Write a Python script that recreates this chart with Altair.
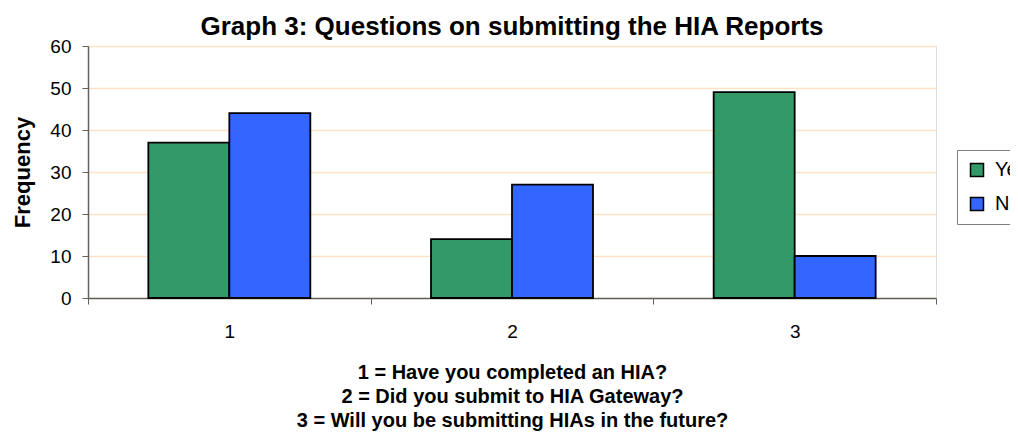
import altair as alt
import pandas as pd

questions = ["1", "2", "3"]
yes_values = [37, 14, 49]
no_values = [44, 27, 10]
series = ["Yes", "No"]
series_colors = ["#339966", "#3366FF"]
y_ticks = [0, 10, 20, 30, 40, 50, 60]
x_title_lines = [
    "1 = Have you completed an HIA?",
    "2 = Did you submit to HIA Gateway?",
    "3 = Will you be submitting HIAs in the future?",
]

rows = []
for q, yv, nv in zip(questions, yes_values, no_values):
    rows.append({"q": q, "answer": "Yes", "freq": yv})
    rows.append({"q": q, "answer": "No", "freq": nv})
df = pd.DataFrame(rows)

FONT = "Liberation Sans"

chart = (
    alt.Chart(df)
    .mark_bar(stroke="black", strokeWidth=1.8)
    .encode(
        x=alt.X(
            "q:N",
            sort=questions,
            scale=alt.Scale(paddingInner=0, paddingOuter=0),
            axis=alt.Axis(
                title=x_title_lines,
                titleFont=FONT,
                titleFontSize=20,
                titleFontWeight="bold",
                titleLineHeight=24,
                titlePadding=21,
                titleColor="black",
                labelAngle=0,
                labelFont=FONT,
                labelFontSize=19,
                labelColor="black",
                labelPadding=18,
                tickBand="extent",
                tickSize=6,
                tickColor="#606060",
                domainColor="#606060",
                domainWidth=1.5,
                grid=False,
            ),
        ),
        xOffset=alt.XOffset(
            "answer:N",
            sort=series,
            scale=alt.Scale(paddingInner=0, paddingOuter=0.745),
        ),
        y=alt.Y(
            "freq:Q",
            scale=alt.Scale(domain=[0, 60], nice=False),
            axis=alt.Axis(
                title="Frequency",
                values=y_ticks,
                titleFont=FONT,
                titleFontSize=22,
                titleFontWeight="bold",
                titleColor="black",
                titlePadding=15,
                labelFont=FONT,
                labelFontSize=19,
                labelColor="black",
                labelPadding=11,
                tickSize=6,
                tickColor="#606060",
                domainColor="#606060",
                domainWidth=1.5,
                gridColor="#FDE2C6",
                gridWidth=1.5,
            ),
        ),
        color=alt.Color(
            "answer:N",
            sort=series,
            scale=alt.Scale(domain=series, range=series_colors),
            legend=alt.Legend(
                title=None,
                orient="none",
                legendX=869,
                legendY=104,
                fillColor="white",
                strokeColor="#808080",
                padding=10,
                symbolType="square",
                symbolSize=169,
                symbolStrokeColor="black",
                symbolStrokeWidth=1.5,
                symbolOpacity=1,
                labelFont=FONT,
                labelFontSize=20,
                labelColor="black",
                labelOffset=8,
                rowPadding=14,
            ),
        ),
    )
    .properties(
        width=848,
        height=252,
        autosize=alt.AutoSizeParams(type="none"),
        padding={"left": 80, "top": 38, "right": 74, "bottom": 135},
        title=alt.TitleParams(
            "Graph 3: Questions on submitting the HIA Reports",
            font=FONT,
            fontSize=26,
            fontWeight="bold",
            color="black",
            anchor="middle",
            offset=-3,
        ),
    )
    .configure_view(stroke=None)
    .configure(background="white")
)

chart.save("out.html", embed_options={"renderer": "svg", "actions": False})
